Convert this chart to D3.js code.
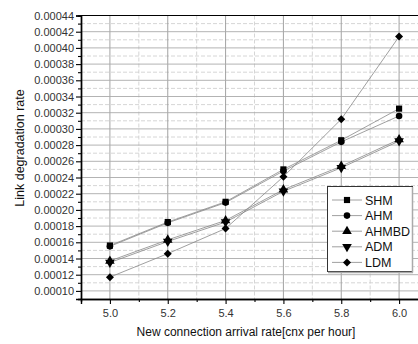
<!DOCTYPE html>
<html><head><meta charset="utf-8">
<script src="https://cdn.jsdelivr.net/npm/d3@7"></script>
<style>body{margin:0;background:#fff}svg{display:block}text{font-family:"Liberation Sans",Arial,sans-serif}</style>
</head><body>
<svg id="c" width="418" height="344"></svg>
<script>
const xValues = [5.0, 5.2, 5.4, 5.6, 5.8, 6.0];
const seriesNames = ["SHM", "AHM", "AHMBD", "ADM", "LDM"];
const SHM   = [0.000156, 0.000185, 0.000210, 0.000250, 0.000286, 0.000325];
const AHM   = [0.000155, 0.000184, 0.000209, 0.000248, 0.000284, 0.000316];
const AHMBD = [0.000137, 0.000163, 0.000187, 0.000225, 0.000254, 0.000287];
const ADM   = [0.000135, 0.000161, 0.000185, 0.000223, 0.000252, 0.000285];
const LDM   = [0.000117, 0.000146, 0.000177, 0.000241, 0.000312, 0.000414];
const xTicks = [5.0, 5.2, 5.4, 5.6, 5.8, 6.0];
const yTicks = [0.00010,0.00012,0.00014,0.00016,0.00018,0.00020,0.00022,0.00024,0.00026,0.00028,0.00030,0.00032,0.00034,0.00036,0.00038,0.00040,0.00042,0.00044];
const xLabel = "New connection arrival rate[cnx per hour]";
const yLabel = "Link degradation rate";

const seriesData = [SHM, AHM, AHMBD, ADM, LDM];
const symbols = ["square", "circle", "up", "down", "diamond"];

const svg = d3.select("#c");
const L = 81, T = 15.5, B = 299;
const x = d3.scaleLinear().domain([4.9, 6.1]).range([L, 428]);
const y = d3.scaleLinear().domain([0.00009, 0.00044]).range([B, T]);

const g = svg.append("g");
const xMinor = d3.range(5.1, 6.1, 0.2).map(v => +v.toFixed(1));
const yMinor = d3.range(0.00011, 0.00044, 0.00002).map(v => +v.toFixed(5));
g.selectAll(".gxm").data(xMinor).join("line")
  .attr("x1", d => x(d)).attr("x2", d => x(d)).attr("y1", T).attr("y2", B)
  .attr("stroke", "#ccc").attr("stroke-width", 0.8).attr("stroke-dasharray", "4,2");
g.selectAll(".gym").data(yMinor).join("line")
  .attr("x1", L).attr("x2", 428).attr("y1", d => y(d)).attr("y2", d => y(d))
  .attr("stroke", "#ccc").attr("stroke-width", 0.8).attr("stroke-dasharray", "4,2");
g.selectAll(".gx").data(xTicks).join("line")
  .attr("x1", d => x(d)).attr("x2", d => x(d)).attr("y1", T).attr("y2", B)
  .attr("stroke", "#999").attr("stroke-width", 0.9);
g.selectAll(".gy").data(yTicks.slice(0, -1)).join("line")
  .attr("x1", L).attr("x2", 428).attr("y1", d => y(d)).attr("y2", d => y(d))
  .attr("stroke", "#aaa").attr("stroke-width", 0.9);

svg.append("line").attr("x1", L).attr("x2", 428).attr("y1", T).attr("y2", T)
  .attr("stroke", "#000").attr("stroke-width", 1.2);

const xAxis = d3.axisBottom(x).tickValues(xTicks).tickFormat(d3.format(".1f")).tickSize(5).tickPadding(5);
const xg = svg.append("g").attr("transform", `translate(0,${B})`).call(xAxis);
const yAxis = d3.axisLeft(y).tickValues(yTicks).tickFormat(d3.format(".5f")).tickSize(5).tickPadding(2);
const yg = svg.append("g").attr("transform", `translate(${L},0)`).call(yAxis);
const xg2 = svg.append("g").attr("transform", `translate(0,${B})`)
  .call(d3.axisBottom(x).tickValues(xMinor).tickFormat("").tickSize(3));
const yg2 = svg.append("g").attr("transform", `translate(${L},0)`)
  .call(d3.axisLeft(y).tickValues(yMinor.concat([0.00009])).tickFormat("").tickSize(3));
[xg, yg, xg2, yg2].forEach(a => {
  a.select(".domain").attr("stroke", "#000").attr("stroke-width", 1.4);
  a.selectAll(".tick line").attr("stroke", "#000").attr("stroke-width", 1.1);
  a.selectAll("text").attr("font-size", 11).attr("fill", "#333")
   .style("font-family", '"Liberation Sans",Arial,sans-serif');
});

const line = d3.line().x((d, i) => x(xValues[i])).y(d => y(d));
seriesData.forEach(s => {
  svg.append("path").datum(s).attr("d", line).attr("fill", "none")
    .attr("stroke", "#888").attr("stroke-width", 0.8);
});
function sym(k) {
  if (k === "square") return d3.symbol().type(d3.symbolSquare).size(38)();
  if (k === "circle") return d3.symbol().type(d3.symbolCircle).size(34)();
  if (k === "diamond") return d3.symbol().type(d3.symbolSquare).size(32)();
  return d3.symbol().type(d3.symbolTriangle).size(40)();
}
function rot(k) {
  if (k === "down") return " rotate(180)";
  if (k === "diamond") return " rotate(45)";
  return "";
}
seriesData.forEach((s, si) => {
  svg.append("g").selectAll("path").data(s).join("path")
    .attr("d", sym(symbols[si]))
    .attr("transform", (d, i) => `translate(${x(xValues[i])},${y(d)})` + rot(symbols[si]))
    .attr("fill", "#000");
});

const lg = svg.append("g");
lg.append("rect").attr("x", 327.5).attr("y", 186.5).attr("width", 85).attr("height", 85)
  .attr("fill", "#fff").attr("stroke", "#333").attr("stroke-width", 1);
lg.append("line").attr("x1", 412.5).attr("x2", 412.5).attr("y1", 187).attr("y2", 272.5).attr("stroke", "#aaa").attr("stroke-width", 1.5);
lg.append("line").attr("x1", 328).attr("x2", 413).attr("y1", 272.5).attr("y2", 272.5).attr("stroke", "#aaa").attr("stroke-width", 1.5);
seriesNames.forEach((n, i) => {
  const yy = 200 + i * 15.6;
  lg.append("line").attr("x1", 332).attr("x2", 362).attr("y1", yy).attr("y2", yy)
    .attr("stroke", "#888").attr("stroke-width", 0.8);
  lg.append("path").attr("d", sym(symbols[i]))
    .attr("transform", `translate(347,${yy})` + rot(symbols[i]))
    .attr("fill", "#000");
  lg.append("text").attr("x", 365).attr("y", yy).attr("dy", "0.36em")
    .attr("font-size", 12.5).attr("fill", "#111").text(n);
});

svg.append("text").attr("x", 246).attr("y", 336).attr("text-anchor", "middle")
  .attr("font-size", 12).attr("fill", "#111").text(xLabel);
svg.append("text").attr("transform", "translate(24,148) rotate(-90)").attr("text-anchor", "middle")
  .attr("font-size", 12.5).attr("fill", "#111").text(yLabel);
</script>
</body></html>
